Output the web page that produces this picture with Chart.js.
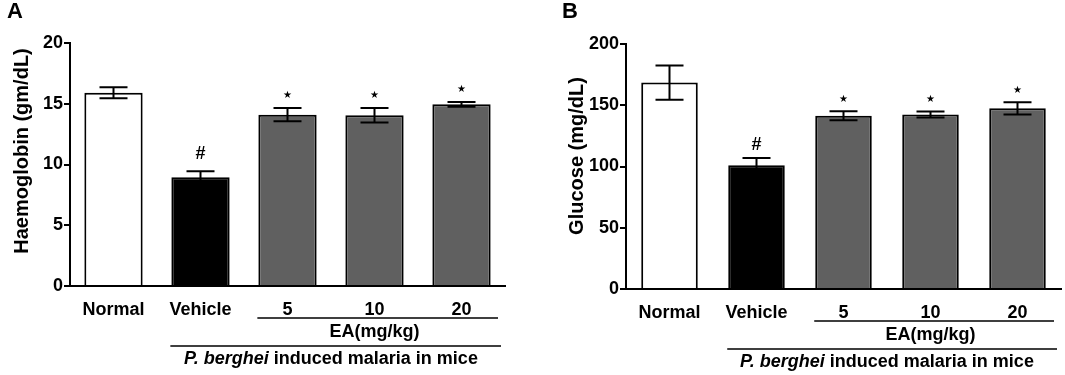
<!DOCTYPE html>
<html>
<head>
<meta charset="utf-8">
<script src="https://cdn.jsdelivr.net/npm/chart.js@4"></script>
<style>
  html, body { margin: 0; padding: 0; background: #fff; }
  #wrap { position: relative; width: 1065px; height: 375px; }
  canvas { position: absolute; top: 0; }
</style>
</head>
<body>
<div id="wrap">
  <canvas id="chart-a" style="left:0" width="545" height="375"></canvas>
  <canvas id="chart-b" style="left:555px" width="510" height="375"></canvas>
</div>
<script>
// Values (mean and SEM)
const categories = ['Normal', 'Vehicle', '5', '10', '20'];
const haemoglobin = [15.9, 8.95, 14.1, 14.05, 14.95];
const haemoglobinSem = [0.45, 0.5, 0.55, 0.6, 0.2];
const glucose = [168.5, 101, 141.5, 142.5, 147.5];
const glucoseSem = [14, 6, 3.7, 2.5, 5];
const marks = ['', '#', '\u2605', '\u2605', '\u2605'];
const hbTicks = [0, 5, 10, 15, 20];
const glucoseTicks = [0, 50, 100, 150, 200];

const barColors = ['#ffffff', '#000000', '#606060', '#606060', '#606060'];
const FONT = "'Liberation Sans', Arial, sans-serif";

Chart.defaults.font.family = FONT;
Chart.defaults.color = '#000';

// error bars, significance marks, group brackets, axis title, panel letter
const decorations = {
    id: 'decorations',
    afterDatasetsDraw(chart, args, opts) {
        const ctx = chart.ctx;
        const y = chart.scales.y;
        const area = chart.chartArea;
        const bars = chart.getDatasetMeta(0).data;
        const values = chart.data.datasets[0].data;

        ctx.save();
        ctx.strokeStyle = '#000';
        ctx.fillStyle = '#000';
        ctx.lineWidth = 2;

        bars.forEach((bar, i) => {
            const top = y.getPixelForValue(values[i] + opts.sem[i]);
            const bottom = y.getPixelForValue(values[i] - opts.sem[i]);
            ctx.beginPath();
            ctx.moveTo(bar.x, top); ctx.lineTo(bar.x, bottom);
            ctx.moveTo(bar.x - 14, top); ctx.lineTo(bar.x + 14, top);
            ctx.moveTo(bar.x - 14, bottom); ctx.lineTo(bar.x + 14, bottom);
            ctx.stroke();

            ctx.textAlign = 'center';
            ctx.textBaseline = 'middle';
            if (marks[i] === '#') {
                ctx.font = 'bold 18px ' + FONT;
                ctx.fillText('#', bar.x, top - opts.hashGap);
            } else if (marks[i]) {
                ctx.font = 'bold 10px DejaVu Sans';
                ctx.fillText(marks[i], bar.x, top - opts.starGap);
            }
        });

        // brackets under the x labels
        const b = area.bottom;
        const half = bars[2].width / 2;
        ctx.lineWidth = 1.5;
        ctx.beginPath();
        ctx.moveTo(bars[2].x - half - 1, b + 32); ctx.lineTo(area.right - 7, b + 32);
        ctx.moveTo(bars[1].x - half - 1, b + 60); ctx.lineTo(area.right - 4, b + 60);
        ctx.stroke();

        ctx.textAlign = 'center';
        ctx.textBaseline = 'middle';
        ctx.font = 'bold 18px ' + FONT;
        ctx.fillText('EA(mg/kg)', (bars[2].x + bars[4].x) / 2, b + 46);

        const p1 = 'P. berghei';
        const p2 = ' induced malaria in mice';
        ctx.font = 'italic bold 18px ' + FONT;
        const w1 = ctx.measureText(p1).width;
        ctx.font = 'bold 18px ' + FONT;
        const w2 = ctx.measureText(p2).width;
        const cx = (bars[1].x + bars[4].x) / 2;
        const sx = cx - (w1 + w2) / 2;
        ctx.textAlign = 'left';
        ctx.font = 'italic bold 18px ' + FONT;
        ctx.fillText(p1, sx, b + 73);
        ctx.font = 'bold 18px ' + FONT;
        ctx.fillText(p2, sx + w1, b + 73);

        // y axis title
        ctx.save();
        ctx.translate(22, area.top + opts.titleOffset);
        ctx.rotate(-Math.PI / 2);
        ctx.textAlign = 'center';
        ctx.textBaseline = 'middle';
        ctx.font = 'bold 20px ' + FONT;
        ctx.fillText(opts.yTitle, 0, 0);
        ctx.restore();

        // panel letter
        ctx.textAlign = 'left';
        ctx.textBaseline = 'alphabetic';
        ctx.font = 'bold 22px ' + FONT;
        ctx.fillText(opts.letter, 7, 18);
        ctx.restore();
    }
};

function makeChart(id, values, sem, ticks, cfg) {
    return new Chart(document.getElementById(id), {
        type: 'bar',
        data: {
            labels: categories,
            datasets: [{
                data: values,
                backgroundColor: barColors,
                borderColor: '#000',
                borderWidth: 2,
                categoryPercentage: 1,
                barPercentage: cfg.barPct
            }]
        },
        options: {
            responsive: false,
            animation: false,
            layout: { padding: { top: cfg.top, right: cfg.right, left: 0, bottom: 0 } },
            plugins: {
                legend: { display: false },
                tooltip: { enabled: false },
                decorations: {
                    sem: sem,
                    yTitle: cfg.yTitle,
                    letter: cfg.letter,
                    titleOffset: cfg.titleOffset,
                    hashGap: cfg.hashGap,
                    starGap: cfg.starGap
                }
            },
            scales: {
                x: {
                    grid: { display: false },
                    border: { display: true, color: '#000', width: 2 },
                    ticks: { font: { size: 18, weight: 'bold' }, padding: 5, maxRotation: 0 },
                    afterFit(scale) { scale.height = cfg.xHeight; }
                },
                y: {
                    min: ticks[0],
                    max: ticks[ticks.length - 1],
                    afterBuildTicks(scale) { scale.ticks = ticks.map(v => ({ value: v })); },
                    grid: { display: true, drawOnChartArea: false, drawTicks: true, tickLength: 6, color: '#000', lineWidth: 2 },
                    border: { display: true, color: '#000', width: 2 },
                    ticks: { font: { size: 18, weight: 'bold' }, padding: 1 },
                    afterFit(scale) { scale.width = cfg.yWidth; }
                }
            }
        },
        plugins: [decorations]
    });
}

makeChart('chart-a', haemoglobin, haemoglobinSem, hbTicks, {
    letter: 'A', yTitle: 'Haemoglobin (gm/dL)', barPct: 0.67,
    top: 43, right: 40, xHeight: 89, yWidth: 70,
    titleOffset: 108, hashGap: 17, starGap: 13
});

makeChart('chart-b', glucose, glucoseSem, glucoseTicks, {
    letter: 'B', yTitle: 'Glucose (mg/dL)', barPct: 0.65,
    top: 44, right: 4, xHeight: 86, yWidth: 71,
    titleOffset: 112, hashGap: 13, starGap: 12
});
</script>
</body>
</html>
